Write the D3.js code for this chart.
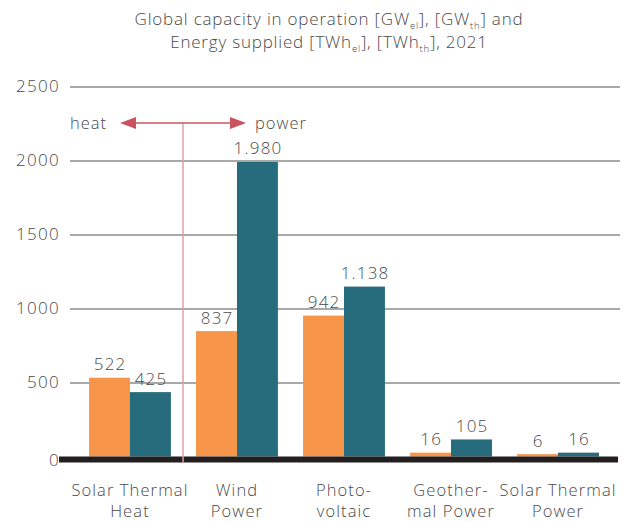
<!DOCTYPE html>
<html>
<head>
<meta charset="utf-8">
<script src="https://cdn.jsdelivr.net/npm/d3@7"></script>
<style>
  body { margin: 0; background: #fff; }
  text { font-family: "Open Sans", Lato, sans-serif; font-weight: 300; fill: #4a4a4a; }
</style>
</head>
<body>
<script>
var w = 625;
var h = 522;

// Data
var categories = [["Solar Thermal", "Heat"], ["Wind", "Power"], ["Photo-", "voltaic"], ["Geother-", "mal Power"], ["Solar Thermal", "Power"]];
var capacity = [522, 837, 942, 16, 6];      // GW
var energy = [425, 1980, 1138, 105, 16];    // TWh
var yTicks = [0, 500, 1000, 1500, 2000, 2500];

var colors = ["#f7964a", "#276c7c"];

var svg = d3.select("body")
            .append("svg")
            .attr("width", w)
            .attr("height", h);

var x0 = d3.scaleBand()
           .domain(d3.range(categories.length))
           .range([76.5, 611.5])
           .paddingInner(0.235)
           .paddingOuter(0.117);
var x1 = d3.scaleBand()
           .domain([0, 1])
           .range([0, x0.bandwidth()]);

var yScale = d3.scaleLinear()
               .domain([0, 2500])
               .range([456.5, 86.5]);

var fmt = d3.formatLocale({decimal: ",", thousands: ".", grouping: [3], currency: ["", ""]}).format(",d");

// title (subscripts as small lowered tspans)
function titleLine(y, parts) {
    var t = svg.append("text")
        .attr("text-anchor", "middle")
        .attr("font-size", 17)
        .attr("letter-spacing", 0.8);
    parts.forEach(function(p, k) {
        var ts = t.append("tspan");
        if (k === 0) ts.attr("x", 329).attr("y", y);
        if (k % 2 === 1) ts.attr("dy", 3.5).attr("font-size", 9.5);
        else if (k > 0) ts.attr("dy", -3.5);
        ts.text(p);
    });
}
titleLine(25, ["Global capacity in operation [GW", "el", "], [GW", "th", "] and"]);
titleLine(48, ["Energy supplied [TWh", "el", "], [TWh", "th", "], 2021"]);

// gridlines + y labels
var yAxis = d3.axisLeft(yScale)
              .tickValues(yTicks)
              .tickSize(-550)
              .tickPadding(10)
              .tickFormat(d3.format("d"));
var gy = svg.append("g")
    .attr("class", "axis")
    .attr("transform", "translate(70,0)")
    .call(yAxis);
gy.select(".domain").remove();
gy.selectAll("line").attr("stroke", "#555").attr("stroke-width", 1.2);
gy.selectAll("text")
    .attr("font-size", 17)
    .attr("letter-spacing", 1.3)
    .attr("fill", "#4a4a4a")
    .attr("font-family", null);
gy.selectAll(".tick").filter(function(d) { return d === 0; }).select("line").remove();
gy.selectAll(".tick").filter(function(d) { return d === 0; }).select("text").attr("dy", "0.5em");

// bars
var groups = svg.selectAll(".cat")
    .data(categories)
    .enter()
    .append("g")
    .attr("class", "cat")
    .attr("transform", function(d, i) { return "translate(" + x0(i) + ",0)"; });

groups.each(function(d, i) {
    var g = d3.select(this);
    var vals = [capacity[i], energy[i]];
    g.selectAll("rect")
        .data(vals)
        .enter()
        .append("rect")
        .attr("x", function(v, j) { return x1(j); })
        .attr("width", x1.bandwidth())
        .attr("y", function(v) { return yScale(v) - 1.5; })
        .attr("height", function(v) { return yScale(0) - yScale(v) + 1.5; })
        .attr("fill", function(v, j) { return colors[j]; });
    g.selectAll(".val")
        .data(vals)
        .enter()
        .append("text")
        .attr("class", "val")
        .attr("x", function(v, j) { return x1(j) + x1.bandwidth() / 2 + 0.6; })
        .attr("y", function(v) { return yScale(v) - 9; })
        .attr("text-anchor", "middle")
        .attr("font-size", 17)
        .attr("letter-spacing", 1.2)
        .text(function(v) { return fmt(v); });
});

// category labels
var catLabels = svg.selectAll(".catlabel")
    .data(categories)
    .enter()
    .append("text")
    .attr("class", "catlabel")
    .attr("text-anchor", "middle")
    .attr("font-size", 16.5)
    .attr("letter-spacing", 1.1);
catLabels.append("tspan")
    .attr("x", function(d, i) { return Math.min(x0(i) + x0.bandwidth() / 2, 563); })
    .attr("y", 496)
    .text(function(d) { return d[0]; });
catLabels.append("tspan")
    .attr("x", function(d, i) { return Math.min(x0(i) + x0.bandwidth() / 2, 563); })
    .attr("y", 517)
    .text(function(d) { return d[1]; });

// thick base line
svg.append("rect")
    .attr("x", 59)
    .attr("y", yScale(0))
    .attr("width", 559)
    .attr("height", 6)
    .attr("fill", "#231f20");

// heat / power annotation
var sepX = 183;
var arrY = 123;
svg.append("line")
    .attr("x1", sepX).attr("x2", sepX)
    .attr("y1", arrY).attr("y2", yScale(0) + 6)
    .attr("stroke", "#dca2aa")
    .attr("stroke-width", 1.5);
svg.append("line")
    .attr("x1", 134).attr("x2", 232)
    .attr("y1", arrY).attr("y2", arrY)
    .attr("stroke", "#c9545f")
    .attr("stroke-width", 1.5);
svg.append("path")
    .attr("d", "M120," + arrY + "L136," + (arrY - 6) + "L136," + (arrY + 6) + "Z")
    .attr("fill", "#c9545f");
svg.append("path")
    .attr("d", "M246," + arrY + "L230," + (arrY - 6) + "L230," + (arrY + 6) + "Z")
    .attr("fill", "#c9545f");
svg.append("text")
    .attr("x", 70).attr("y", arrY + 6)
    .attr("font-size", 16.5)
    .attr("letter-spacing", 1)
    .text("heat");
svg.append("text")
    .attr("x", 255).attr("y", arrY + 6)
    .attr("font-size", 16.5)
    .attr("letter-spacing", 1)
    .text("power");
</script>
</body>
</html>
